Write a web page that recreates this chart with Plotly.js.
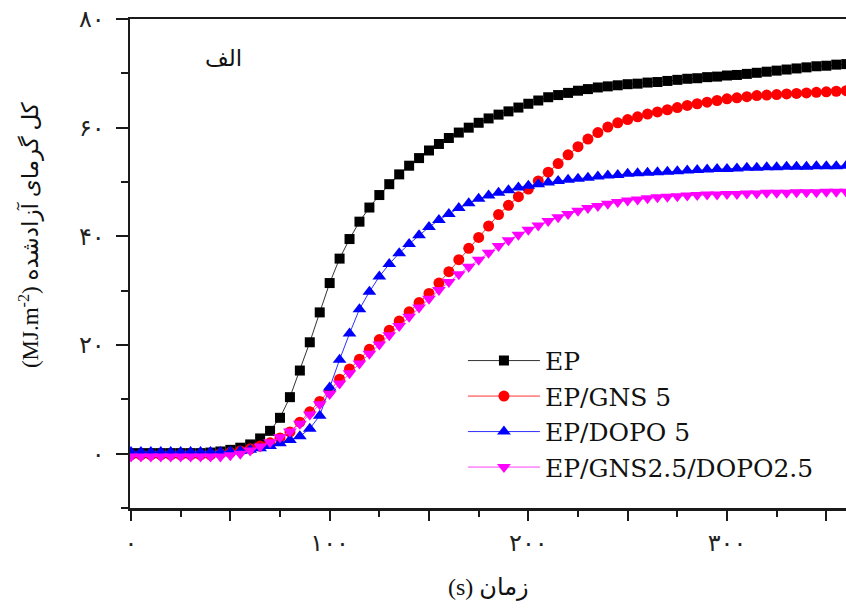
<!DOCTYPE html>
<html>
<head>
<meta charset="utf-8">
<script src="https://cdn.plot.ly/plotly-3.0.1.min.js"></script>
<style>html,body{margin:0;padding:0;background:#fff;}#chart{width:846px;height:608px;}</style>
</head>
<body>
<div id="chart"></div>
<script>
// time (s)
const time = [0,5,10,15,20,25,30,35,40,45,
  50,55,60,65,70,75,80,85,90,95,
  100,105,110,115,120,125,130,135,140,145,
  150,155,160,165,170,175,180,185,190,195,
  200,205,210,215,220,225,230,235,240,245,
  250,255,260,265,270,275,280,285,290,295,
  300,305,310,315,320,325,330,335,340,345,
  350,355,360];

const seriesNames = ["EP", "EP/GNS 5", "EP/DOPO 5", "EP/GNS2.5/DOPO2.5"];

const ep = [0.1,0.1,0.1,0.1,0.1,0.1,0.1,0.1,0.2,0.4,
  0.7,1.1,1.7,2.8,4.2,6.6,10.4,15.3,20.5,26.0,
  31.4,35.9,39.5,42.7,45.3,47.6,49.6,51.4,53.0,54.4,
  55.8,57.0,58.1,59.1,60.0,60.9,61.7,62.4,63.0,63.7,
  64.4,65.0,65.6,66.0,66.4,66.8,67.1,67.4,67.6,67.8,
  68.0,68.1,68.3,68.4,68.6,68.8,69.0,69.1,69.3,69.4,
  69.6,69.7,69.9,70.1,70.3,70.5,70.7,70.9,71.1,71.3,
  71.4,71.6,71.7];

const epGns5 = [-0.2,-0.2,-0.2,-0.2,-0.2,-0.2,-0.2,-0.2,-0.2,0.0,
  0.2,0.5,0.9,1.4,2.0,2.9,4.0,5.8,7.7,9.6,
  11.6,13.7,15.6,17.4,19.2,21.0,22.7,24.4,26.1,27.8,
  29.5,31.4,33.5,35.7,37.8,39.8,41.9,44.0,45.7,47.3,
  48.7,50.2,51.8,53.4,55.0,56.5,57.9,59.1,60.1,60.9,
  61.5,62.0,62.5,62.9,63.3,63.7,64.1,64.4,64.7,65.0,
  65.3,65.5,65.7,65.9,66.0,66.1,66.2,66.3,66.4,66.5,
  66.6,66.7,66.8];

const epDopo5 = [0.3,0.3,0.3,0.3,0.3,0.3,0.3,0.3,0.3,0.3,
  0.4,0.5,0.7,1.0,1.4,1.9,2.5,3.2,4.6,7.0,
  12.2,17.3,22.1,26.6,29.8,32.6,34.9,36.9,38.6,40.2,
  41.7,43.0,44.1,45.2,46.1,46.9,47.5,48.0,48.5,49.0,
  49.3,49.6,49.9,50.2,50.4,50.6,50.8,51.0,51.2,51.3,
  51.5,51.6,51.7,51.8,51.9,52.0,52.1,52.2,52.3,52.4,
  52.4,52.5,52.6,52.6,52.7,52.7,52.8,52.8,52.8,52.9,
  52.9,52.9,53.0];

const epGnsDopo = [-0.5,-0.5,-0.5,-0.5,-0.5,-0.5,-0.5,-0.5,-0.5,-0.5,
  -0.3,0.0,0.6,1.3,2.1,3.0,4.1,5.5,7.2,9.1,
  11.0,12.9,14.8,16.6,18.4,20.1,21.8,23.5,25.2,26.9,
  28.5,30.1,31.6,33.0,34.4,35.7,37.0,38.2,39.3,40.3,
  41.2,42.0,42.8,43.5,44.1,44.7,45.2,45.6,46.0,46.3,
  46.6,46.8,47.0,47.2,47.3,47.4,47.5,47.6,47.7,47.7,
  47.8,47.8,47.9,47.9,48.0,48.0,48.0,48.1,48.1,48.1,
  48.2,48.2,48.2];

const xTickVals = [0,50,100,150,200,250,300,350];
const xTickText = ["۰","","۱۰۰","","۲۰۰","","۳۰۰",""];
const yTickVals = [0,20,40,60,80];
const yTickText = ["۰","۲۰","۴۰","۶۰","۸۰"];

const panelLabel = "الف";
const xTitle = "(s) زمان";
const yTitle = "(MJ.m<sup>-2</sup>) کل گرمای آزادشده";

const allY = [ep, epGns5, epDopo5, epGnsDopo];
const styles = [
  {color:"#000000", line:"#333333", symbol:"square", size:10},
  {color:"#ff0000", line:"#ff3030", symbol:"circle", size:11},
  {color:"#0000ff", line:"#3030ff", symbol:"triangle-up", size:12},
  {color:"#ff00ff", line:"#ff40ff", symbol:"triangle-down", size:12}
];

const traces = allY.map((ys, i) => ({
  x: time, y: ys, name: seriesNames[i], type: "scatter", mode: "lines+markers",
  line: {color: styles[i].line, width: 1},
  marker: {color: styles[i].color, symbol: styles[i].symbol, size: styles[i].size, line: {width: 0}}
}));

const axisColor = "#1a1a1a";
const layout = {
  width: 846, height: 608,
  margin: {l: 130, r: 0, t: 19, b: 100},
  paper_bgcolor: "#ffffff", plot_bgcolor: "#ffffff",
  showlegend: true,
  legend: {
    x: 0.465, y: 0.348, xanchor: "left", yanchor: "top",
    bgcolor: "rgba(0,0,0,0)", borderwidth: 0,
    itemwidth: 72,
    font: {family: "DejaVu Serif, Liberation Serif, serif", size: 25, color: "#111"}
  },
  xaxis: {
    range: [-0.5, 359.9], showgrid: false, zeroline: false,
    showline: true, linecolor: axisColor, linewidth: 2.5, mirror: true,
    ticks: "outside", ticklen: 10, tickwidth: 2, tickcolor: axisColor,
    tickmode: "array", tickvals: xTickVals, ticktext: xTickText,
    ticklabelstandoff: 2,
    minor: {tickmode: "linear", tick0: 0, dtick: 25, ticks: "outside", ticklen: 6, tickwidth: 2, tickcolor: axisColor},
    tickfont: {family: "DejaVu Sans", size: 24, color: "#222"}
  },
  yaxis: {
    range: [-10, 80], showgrid: false, zeroline: false,
    showline: true, linecolor: axisColor, linewidth: 2.5, mirror: false,
    ticks: "outside", ticklen: 12, tickwidth: 2, tickcolor: axisColor,
    tickmode: "array", tickvals: yTickVals, ticktext: yTickText,
    ticklabelstandoff: 6,
    minor: {tickmode: "linear", tick0: -10, dtick: 10, ticks: "outside", ticklen: 7, tickwidth: 2, tickcolor: axisColor},
    tickfont: {family: "DejaVu Sans", size: 24, color: "#222"}
  },
  annotations: [
    {text: panelLabel, xref: "paper", yref: "paper", x: 0.13, y: 0.92, xanchor: "center", yanchor: "middle", showarrow: false,
     font: {family: "DejaVu Sans", size: 23, color: "#111"}},
    {text: yTitle, xref: "paper", yref: "paper", x: -0.1397, y: 0.558, xanchor: "center", yanchor: "middle", textangle: -90, showarrow: false,
     font: {family: "Liberation Serif, DejaVu Sans", size: 23, color: "#111"}},
    {text: xTitle, xref: "paper", yref: "paper", x: 0.5, y: -0.163, xanchor: "center", yanchor: "middle", showarrow: false,
     font: {family: "Liberation Serif, DejaVu Sans", size: 24, color: "#111"}}
  ]
};

Plotly.newPlot("chart", traces, layout, {displayModeBar: false, staticPlot: true});
</script>
</body>
</html>
